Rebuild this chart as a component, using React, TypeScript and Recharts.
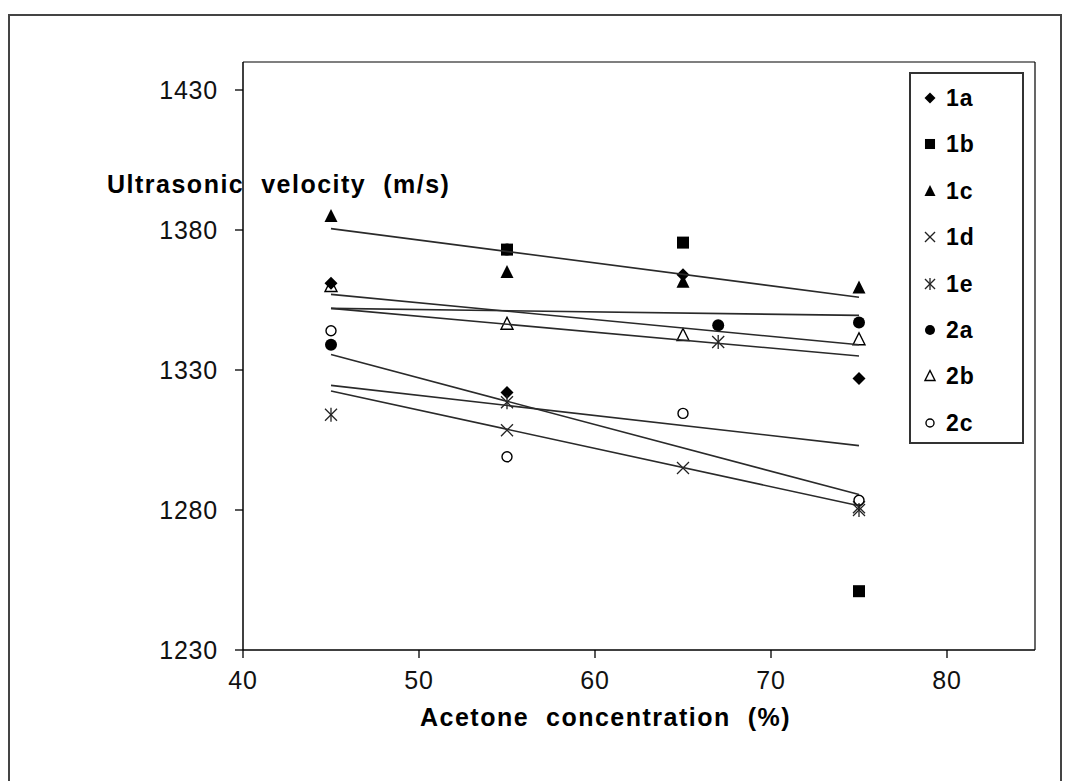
import { ScatterChart, Scatter, XAxis, YAxis, ReferenceLine } from "recharts";

const FONT = '"Liberation Sans", Arial, Helvetica, sans-serif';

const X_TICKS = [40, 50, 60, 70, 80];
const Y_TICKS = [1230, 1280, 1330, 1380, 1430];

// acetone concentration (%) per series
const X_MAIN = [45, 55, 65, 75];
const X_SHIFTED = [45, 55, 67, 75];
const X_LATE = [55, 65, 75];

// ultrasonic velocity (m/s)
const V_1A = [1361, 1322, 1364, 1327];
const V_1B = [1373, 1375.5, 1251];
const V_1C = [1385, 1365, 1361.5, 1359.5];
const V_1D = [1308.5, 1295, 1281];
const V_1E = [1314, 1318.5, 1340, 1280];
const V_2A = [1339, 1373, 1346, 1347];
const V_2B = [1360, 1346.5, 1342.5, 1341];
const V_2C = [1344, 1299, 1314.5, 1283.5];

// linear trend lines, value at 45 % and at 75 %
const TREND_X = [45, 75];
const TREND_1A = [1352, 1335];
const TREND_1C = [1380.5, 1356];
const TREND_1D = [1322.5, 1281.5];
const TREND_1E = [1324.5, 1303];
const TREND_2A = [1352, 1349.5];
const TREND_2B = [1357, 1339];
const TREND_2C = [1335.5, 1285.5];

type Kind = "diamond" | "square" | "triangle" | "cross" | "star" | "dot" | "openTriangle" | "openCircle";

const SERIES: { name: string; kind: Kind; xs: number[]; ys: number[]; trend?: number[] }[] = [
  { name: "1a", kind: "diamond", xs: X_MAIN, ys: V_1A, trend: TREND_1A },
  { name: "1b", kind: "square", xs: X_LATE, ys: V_1B },
  { name: "1c", kind: "triangle", xs: X_MAIN, ys: V_1C, trend: TREND_1C },
  { name: "1d", kind: "cross", xs: X_LATE, ys: V_1D, trend: TREND_1D },
  { name: "1e", kind: "star", xs: X_SHIFTED, ys: V_1E, trend: TREND_1E },
  { name: "2a", kind: "dot", xs: X_SHIFTED, ys: V_2A, trend: TREND_2A },
  { name: "2b", kind: "openTriangle", xs: X_MAIN, ys: V_2B, trend: TREND_2B },
  { name: "2c", kind: "openCircle", xs: X_MAIN, ys: V_2C, trend: TREND_2C },
];

const pts = (xs: number[], ys: number[]) => xs.map((x, i) => ({ x, y: ys[i] }));

function Marker({ kind, cx, cy, s = 1 }: { kind: Kind; cx: number; cy: number; s?: number }) {
  const h = 6.5 * s;
  switch (kind) {
    case "diamond":
      return <polygon points={`${cx},${cy - h} ${cx + h},${cy} ${cx},${cy + h} ${cx - h},${cy}`} fill="#000" />;
    case "square":
      return <rect x={cx - h + 0.5} y={cy - h + 0.5} width={2 * h - 1} height={2 * h - 1} fill="#000" />;
    case "triangle":
      return <polygon points={`${cx},${cy - h - 0.5} ${cx + h},${cy + h - 0.5} ${cx - h},${cy + h - 0.5}`} fill="#000" />;
    case "openTriangle":
      return (
        <polygon
          points={`${cx},${cy - h} ${cx + h - 0.5},${cy + h - 1} ${cx - h + 0.5},${cy + h - 1}`}
          fill="none"
          stroke="#000"
          strokeWidth={1.4}
        />
      );
    case "dot":
      return <circle cx={cx} cy={cy} r={h - 0.5} fill="#000" />;
    case "openCircle":
      return <circle cx={cx} cy={cy} r={h - 1.5} fill="none" stroke="#000" strokeWidth={1.4} />;
    case "cross":
    case "star": {
      const c = h - 0.5;
      return (
        <g stroke="#222" strokeWidth={1.3}>
          <line x1={cx - c} y1={cy - c} x2={cx + c} y2={cy + c} />
          <line x1={cx - c} y1={cy + c} x2={cx + c} y2={cy - c} />
          {kind === "star" && <line x1={cx} y1={cy - h - 0.5} x2={cx} y2={cy + h + 0.5} />}
        </g>
      );
    }
  }
  return null;
}

function YTick({ x, y, payload }: any) {
  return (
    <text x={x} y={y} dy="0.355em" textAnchor="end" fontFamily={FONT} fontSize={25} letterSpacing={0.8} fill="#111">
      {payload.value}
    </text>
  );
}

function XTick({ x, y, payload }: any) {
  return (
    <text x={x} y={y} dy="0.71em" textAnchor="middle" fontFamily={FONT} fontSize={25} letterSpacing={0.8} fill="#111">
      {payload.value}
    </text>
  );
}

const titleStyle: React.CSSProperties = {
  position: "absolute",
  fontFamily: FONT,
  fontSize: 25,
  fontWeight: "bold",
  letterSpacing: 1.5,
  lineHeight: "25px",
  whiteSpace: "pre",
  color: "#000",
};

export default function App() {
  return (
    <div style={{ position: "absolute", left: 0, top: 0, width: 1066, height: 781, overflow: "hidden", background: "#fff" }}>
      <div
        style={{
          position: "absolute",
          left: 8,
          top: 14,
          width: 1054,
          height: 800,
          border: "2px solid #444",
          boxSizing: "border-box",
        }}
      />
      <div style={{ position: "absolute", left: 0, top: 0 }}>
        <ScatterChart width={1066} height={781} margin={{ top: 62, right: 31, bottom: 0, left: 0 }}>
          <XAxis
            type="number"
            dataKey="x"
            domain={[40, 85]}
            ticks={X_TICKS}
            height={131}
            tickSize={8}
            tickMargin={13}
            axisLine={{ stroke: "#000", strokeWidth: 1.5 }}
            tickLine={{ stroke: "#000", strokeWidth: 1.3 }}
            tick={<XTick />}
          />
          <YAxis
            type="number"
            dataKey="y"
            domain={[1230, 1440]}
            ticks={Y_TICKS}
            width={243}
            tickSize={8}
            tickMargin={17}
            axisLine={{ stroke: "#000", strokeWidth: 1.5 }}
            tickLine={{ stroke: "#000", strokeWidth: 1.3 }}
            tick={<YTick />}
          />
          <ReferenceLine y={1440} stroke="#000" strokeWidth={1.2} ifOverflow="visible" />
          <ReferenceLine x={85} stroke="#000" strokeWidth={1.2} ifOverflow="visible" />
          {SERIES.map((s) => (
            <Scatter
              key={s.name}
              name={s.name}
              data={pts(s.xs, s.ys)}
              isAnimationActive={false}
              shape={(p: any) => <Marker kind={s.kind} cx={p.cx} cy={p.cy} />}
            />
          ))}
          {SERIES.filter((s) => s.trend).map((s) => (
            <Scatter
              key={"trend-" + s.name}
              data={pts(TREND_X, s.trend as number[])}
              isAnimationActive={false}
              line={{ stroke: "#2a2a2a", strokeWidth: 1.6 }}
              shape={() => <g />}
              legendType="none"
            />
          ))}
        </ScatterChart>
      </div>

      <div style={{ ...titleStyle, left: 107, top: 172 }}>{"Ultrasonic  velocity  (m/s)"}</div>
      <div style={{ ...titleStyle, left: 420, top: 705 }}>{"Acetone  concentration  (%)"}</div>

      <div
        style={{
          position: "absolute",
          left: 909,
          top: 72,
          width: 115,
          height: 372,
          border: "2px solid #333",
          boxSizing: "border-box",
          background: "#fff",
        }}
      >
        {SERIES.map((s, i) => (
          <div key={s.name} style={{ position: "absolute", left: 0, top: 24 + i * 46.4 - 15, height: 30, width: 110 }}>
            <svg width={20} height={30} style={{ position: "absolute", left: 9, top: 0 }}>
              <Marker kind={s.kind} cx={10} cy={15} s={0.85} />
            </svg>
            <span
              style={{
                position: "absolute",
                left: 35,
                top: 0,
                fontFamily: FONT,
                fontSize: 23,
                fontWeight: "bold",
                letterSpacing: 1,
                lineHeight: "30px",
                color: "#000",
              }}
            >
              {s.name}
            </span>
          </div>
        ))}
      </div>
    </div>
  );
}
